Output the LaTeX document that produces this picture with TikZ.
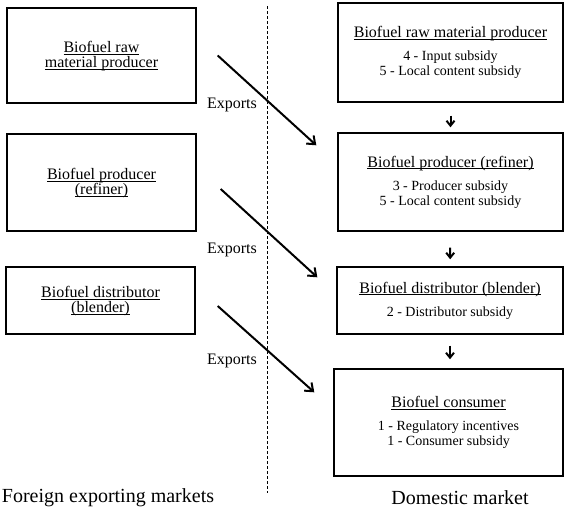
\documentclass[tikz,border=0pt]{standalone}
\usepackage{fontspec}
\setmainfont{Liberation Serif}
\usetikzlibrary{arrows.meta}
\newcommand{\hd}[1]{\underline{\raisebox{0pt}[\height][0pt]{#1}}}
\tikzset{
  market/.style={draw, line width=1.4pt, inner sep=0pt, align=center},
  sub/.style={font=\fontsize{14}{15}\selectfont},
  hdr/.style={font=\fontsize{16}{15.5}\selectfont},
  flow/.style={line width=2pt, -{Straight Barb[length=7pt,width=11pt]}},
  chain/.style={line width=2pt, -{Straight Barb[length=5pt,width=8pt]}},
}
\begin{document}
\begin{tikzpicture}[x=1pt, y=-1pt]
 \useasboundingbox (0,0) rectangle (568,512);
 % foreign exporting markets
 \node[market, hdr, minimum width=189pt, minimum height=95pt] (fr) at (101.5,55.5) {\hd{Biofuel raw}\\\hd{material producer}};
 \node[market, hdr, minimum width=189pt, minimum height=97pt] (fp) at (101.5,182.5) {\hd{Biofuel producer}\\\hd{(refiner)}};
 \node[market, hdr, minimum width=189pt, minimum height=67pt] (fd) at (100.5,300.5) {\hd{Biofuel distributor}\\\hd{(blender)}};
 % domestic market
 \node[market, sub, minimum width=225pt, minimum height=99pt] (dr) at (450.5,52.5) {{\fontsize{16}{18}\selectfont\hd{Biofuel raw material producer}}\\[8pt]4 - Input subsidy\\5 - Local content subsidy};
 \node[market, sub, minimum width=225pt, minimum height=98pt] (dp) at (450.5,182) {{\fontsize{16}{18}\selectfont\hd{Biofuel producer (refiner)}}\\[8pt]3 - Producer subsidy\\5 - Local content subsidy};
 \node[market, sub, minimum width=226pt, minimum height=67pt] (dd) at (450,300.5) {{\fontsize{16}{18}\selectfont\hd{Biofuel distributor (blender)}}\\[8pt]2 - Distributor subsidy};
 \node[market, sub, minimum width=229pt, minimum height=107pt] (dc) at (448.5,422.5) {{\fontsize{16}{18}\selectfont\hd{Biofuel consumer}}\\[8pt]1 - Regulatory incentives\\1 - Consumer subsidy};
 % border
 \coordinate (top) at (267,6);
 \coordinate (bot) at (267,493);
 \draw[line width=0.9pt, dash pattern=on 3pt off 2pt] (top) -- (bot);
 % exports
 \coordinate (s1) at ([xshift=21pt]fr.east);
 \coordinate (t1) at ([xshift=-21pt, yshift=-13pt]dp.north west);
 \coordinate (s2) at ([xshift=24pt, yshift=-6.5pt]fp.east);
 \coordinate (t2) at ([xshift=-19pt, yshift=-11pt]dd.north west);
 \coordinate (s3) at ([xshift=22pt, yshift=-5.5pt]fd.east);
 \coordinate (t3) at ([xshift=-19pt, yshift=-24pt]dc.north west);
 \path (s1) edge[flow] (t1);
 \path (s2) edge[flow] (t2);
 \path (s3) edge[flow] (t3);
 \node[hdr] (x1) at (232,105) {Exports};
 \node[hdr] (x2) at (232,250) {Exports};
 \node[hdr] (x3) at (232,361) {Exports};
 % supply chain
 \path (dr) edge[chain, shorten <=13pt, shorten >=5pt] (dp);
 \path (dp) edge[chain, shorten <=16pt, shorten >=7pt] (dd);
 \path (dd.south) edge[chain, shorten <=11pt, shorten >=9pt] (dd.south |- dc.north);
 % markets
 \node[font=\fontsize{20}{22}\selectfont] (fm) at (108,498) {Foreign exporting markets};
 \node[font=\fontsize{20}{22}\selectfont] (dm) at (460,498) {Domestic market};
\end{tikzpicture}
\end{document}
